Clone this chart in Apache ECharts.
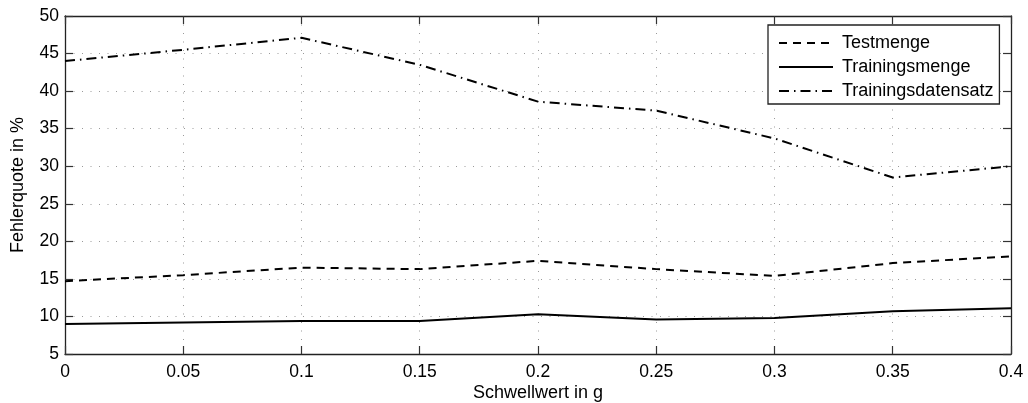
<!DOCTYPE html>
<html><head><meta charset="utf-8">
<script src="https://cdn.jsdelivr.net/npm/echarts@6/dist/echarts.min.js"></script>
<style>html,body{margin:0;padding:0;background:#fff}#c{width:1028px;height:403px}</style>
</head><body><div id="c"></div>
<script>
const thresholds = [0, 0.05, 0.1, 0.15, 0.2, 0.25, 0.3, 0.35, 0.4];
const testmenge = [14.7, 15.5, 16.5, 16.3, 17.4, 16.3, 15.4, 17.1, 18.0];
const trainingsmenge = [9.0, 9.2, 9.4, 9.4, 10.3, 9.6, 9.8, 10.7, 11.1];
const trainingsdatensatz = [44.0, 45.5, 47.1, 43.5, 38.6, 37.4, 33.7, 28.5, 30.0];
const seriesNames = ['Testmenge', 'Trainingsmenge', 'Trainingsdatensatz'];
const xTitle = 'Schwellwert in g';
const yTitle = 'Fehlerquote in %';

const FONT = '"Liberation Sans", Arial, Helvetica, sans-serif';
const pair = arr => thresholds.map((x, i) => [x, arr[i]]);
const axisLine = {show: true, onZero: false, lineStyle: {color: '#222', width: 1.3}};
const tick = {show: true, inside: true, length: 8, lineStyle: {color: '#333', width: 1.2}};
const gridLine = {show: true, lineStyle: {color: '#9a9a9a', width: 1, type: [1, 7.5]}};

const chart = echarts.init(document.getElementById('c'), null, {renderer: 'canvas'});
chart.setOption({
  animation: false,
  backgroundColor: '#fff',
  textStyle: {fontFamily: FONT},
  grid: {left: 65, top: 16, right: 17, bottom: 49, containLabel: false, outerBoundsMode: 'none'},
  legend: {
    left: 768, top: 25, orient: 'vertical',
    backgroundColor: '#fff', borderColor: '#222', borderWidth: 1.3,
    padding: [9, 6, 4, 10], itemWidth: 54, itemHeight: 14, itemGap: 6,
    itemStyle: {color: 'rgba(0,0,0,0)', borderColor: 'rgba(0,0,0,0)', borderWidth: 0},
    textStyle: {fontFamily: FONT, fontSize: 18, color: '#000', padding: [0, 0, 0, 4]},
    data: seriesNames
  },
  xAxis: [{
    type: 'value', min: 0, max: 0.4, interval: 0.05, position: 'bottom',
    name: xTitle, nameLocation: 'middle', nameGap: 30, nameMoveOverlap: false,
    nameTextStyle: {fontFamily: FONT, fontSize: 18, color: '#000'},
    axisLine: axisLine, axisTick: tick,
    axisLabel: {fontFamily: FONT, fontSize: 17.5, color: '#000', margin: 9},
    splitLine: gridLine
  }, {
    type: 'value', min: 0, max: 0.4, interval: 0.05, position: 'top',
    axisLine: axisLine, axisTick: tick,
    axisLabel: {show: false}, splitLine: {show: false}
  }],
  yAxis: [{
    type: 'value', min: 5, max: 50, interval: 5, position: 'left',
    name: yTitle, nameLocation: 'middle', nameGap: 38, nameRotate: 90, nameMoveOverlap: false,
    nameTextStyle: {fontFamily: FONT, fontSize: 18, color: '#000'},
    axisLine: axisLine, axisTick: tick,
    axisLabel: {fontFamily: FONT, fontSize: 17.5, color: '#000', margin: 6},
    splitLine: gridLine
  }, {
    type: 'value', min: 5, max: 50, interval: 5, position: 'right',
    axisLine: axisLine, axisTick: tick,
    axisLabel: {show: false}, splitLine: {show: false}
  }],
  series: [
    {name: seriesNames[0], type: 'line', data: pair(testmenge), symbol: 'none',
     lineStyle: {color: '#000', width: 2, type: [8, 6]}, itemStyle: {color: '#000'}},
    {name: seriesNames[1], type: 'line', data: pair(trainingsmenge), symbol: 'none',
     lineStyle: {color: '#000', width: 2, type: 'solid'}, itemStyle: {color: '#000'}},
    {name: seriesNames[2], type: 'line', data: pair(trainingsdatensatz), symbol: 'none',
     lineStyle: {color: '#000', width: 2, type: [10, 5, 1.5, 5]}, itemStyle: {color: '#000'}}
  ]
});
</script></body></html>
